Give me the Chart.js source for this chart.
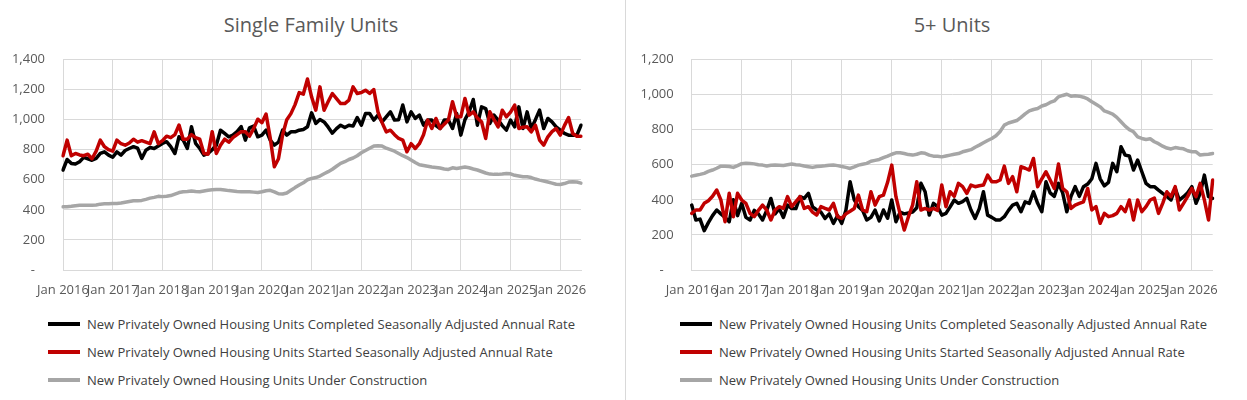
<!DOCTYPE html>
<html>
<head>
<meta charset="utf-8">
<script src="https://cdn.jsdelivr.net/npm/chart.js@4.4.1/dist/chart.umd.min.js"></script>
<style>
  html, body { margin: 0; padding: 0; background: #fff; overflow: hidden; }
  body { width: 1247px; height: 400px; position: relative; font-family: "Open Sans", sans-serif; }
  canvas { position: absolute; top: 0; }
  .title { position: absolute; top: 11px; font-size: 20px; line-height: 28px; color: #595959; white-space: nowrap; transform: translateX(-50%); }
  .divider { position: absolute; left: 625px; top: 0; width: 1px; height: 400px; background: #d9d9d9; }
  .legend { position: absolute; top: 310px; font-size: 13px; color: #404040; }
  .legend .item { height: 28px; display: flex; align-items: center; white-space: nowrap; }
  .legend .swatch { display: inline-block; width: 32px; height: 4px; margin-right: 7px; }
</style>
</head>
<body>
<div class="title" style="left:311px">Single Family Units</div>
<div class="title" style="left:952px">5+ Units</div>
<canvas id="sf-canvas" width="622" height="310" style="left:0"></canvas>
<canvas id="mf-canvas" width="619" height="310" style="left:628px"></canvas>
<div class="divider"></div>
<div class="legend" id="sf-legend" style="left:48px"></div>
<div class="legend" id="mf-legend" style="left:680px"></div>

<script>
// monthly series, Jan 2016 .. Jun 2026 (thousands of units, SAAR)
const years = [2016, 2017, 2018, 2019, 2020, 2021, 2022, 2023, 2024, 2025, 2026];
const monthNames = ['Jan', 'Feb', 'Mar', 'Apr', 'May', 'Jun', 'Jul', 'Aug', 'Sep', 'Oct', 'Nov', 'Dec'];
const yearTicks = ['Jan 2016', 'Jan 2017', 'Jan 2018', 'Jan 2019', 'Jan 2020', 'Jan 2021',
                   'Jan 2022', 'Jan 2023', 'Jan 2024', 'Jan 2025', 'Jan 2026'];

const seriesNames = [
  'New Privately Owned Housing Units Completed Seasonally Adjusted Annual Rate',
  'New Privately Owned Housing Units Started Seasonally Adjusted Annual Rate',
  'New Privately Owned Housing Units Under Construction'
];

// Single family
const sfCompleted = [
  665, 735, 709, 705, 720, 749, 740, 730, 742, 775, 786, 764,
  750, 786, 764, 795, 808, 820, 810, 742, 797, 815, 808, 825,
  842, 853, 820, 775, 886, 864, 808, 953, 842, 808, 764, 775,
  800, 830, 930, 908, 886, 897, 920, 953, 864, 945, 957, 886,
  897, 930, 864, 830, 850, 930, 897, 919, 919, 930, 935, 953,
  1045, 975, 1001, 985, 950, 910, 940, 963, 948, 963, 957, 1014,
  963, 1041, 1041, 997, 1030, 985, 1019, 1052, 997, 1000, 1097, 985,
  1052, 1008, 1030, 963, 997, 997, 960, 941, 997, 997, 941, 1041,
  897, 1000, 1052, 1134, 963, 1085, 1074, 974, 1030, 997, 960, 930,
  997, 952, 1085, 941, 1052, 941, 1000, 1063, 941, 1008, 985, 952,
  930, 908, 897, 897, 897, 963
];
const sfStarted = [
  760, 864, 760, 775, 765, 760, 770, 740, 790, 864, 820, 800,
  790, 864, 840, 830, 845, 870, 850, 860, 850, 840, 919, 840,
  860, 890, 880, 900, 964, 870, 870, 900, 880, 870, 775, 770,
  920, 775, 830, 870, 850, 880, 900, 920, 920, 890, 940, 1003,
  980, 1037, 880, 687, 740, 900, 1000, 1040, 1100, 1180, 1170, 1270,
  1150, 1063, 1218, 1063, 1120, 1174, 1140, 1107, 1107, 1130, 1218, 1174,
  1180, 1196, 1174, 1200, 1052, 980, 919, 930, 900, 875, 864, 786,
  840, 808, 840, 900, 997, 941, 1008, 941, 970, 997, 1119, 1019,
  1019, 1141, 1030, 1052, 1010, 986, 875, 1052, 1000, 952, 1063, 1019,
  1050, 1097, 941, 950, 952, 919, 963, 864, 830, 886, 920, 941,
  897, 960, 1014, 908, 890, 890
];
const sfUnderConstruction = [
  420, 421, 424, 428, 430, 430, 430, 431, 432, 438, 440, 441,
  443, 443, 445, 450, 455, 460, 461, 463, 470, 478, 483, 490,
  488, 490, 495, 505, 515, 520, 522, 525, 522, 520, 525, 530,
  533, 535, 535, 532, 528, 525, 522, 521, 521, 521, 518, 515,
  520, 527, 530, 520, 507, 505, 512, 530, 548, 565, 580, 600,
  609, 615, 625, 640, 654, 670, 690, 709, 720, 735, 745, 760,
  780, 795, 810, 824, 826, 824, 810, 800, 790, 775, 760, 748,
  731, 715, 700, 695, 690, 685, 682, 678, 672, 669, 680, 675,
  680, 685, 680, 672, 665, 655, 645, 638, 636, 636, 638, 642,
  640, 630, 625, 620, 620, 615, 605, 598, 592, 585, 578, 570,
  569, 575, 585, 587, 585, 578
];

// 5+ units
const mfCompleted = [
  370, 285, 290, 224, 270, 310, 342, 320, 300, 275, 400, 310,
  380, 300, 285, 340, 320, 285, 340, 408, 320, 350, 300, 370,
  350, 350, 418, 408, 437, 360, 342, 330, 294, 320, 266, 310,
  266, 340, 503, 400, 361, 340, 285, 300, 342, 280, 342, 295,
  399, 275, 330, 320, 325, 330, 355, 494, 446, 313, 380, 361,
  313, 323, 360, 399, 380, 390, 408, 342, 294, 350, 446, 313,
  300, 285, 285, 304, 340, 370, 380, 332, 389, 380, 446, 380,
  332, 503, 440, 420, 494, 440, 332, 420, 475, 420, 475, 490,
  520, 608, 520, 480, 500, 608, 560, 703, 655, 650, 570, 627,
  560, 494, 475, 475, 455, 437, 420, 399, 465, 399, 418, 440,
  475, 380, 437, 541, 418, 408
];
const mfStarted = [
  323, 342, 342, 380, 395, 420, 456, 400, 275, 437, 304, 437,
  399, 380, 323, 304, 340, 370, 342, 285, 342, 361, 351, 418,
  361, 390, 418, 351, 361, 330, 313, 361, 351, 342, 380, 304,
  294, 320, 335, 351, 427, 342, 332, 446, 370, 418, 427, 500,
  598, 418, 320, 228, 304, 370, 503, 342, 351, 342, 351, 340,
  484, 361, 446, 420, 494, 475, 437, 484, 475, 480, 484, 541,
  503, 503, 513, 592, 494, 532, 446, 589, 580, 570, 636, 475,
  520, 560, 513, 465, 604, 465, 446, 351, 370, 380, 389, 465,
  342, 361, 266, 323, 304, 310, 323, 361, 332, 399, 285, 399,
  332, 361, 399, 410, 323, 380, 446, 418, 475, 342, 380, 420,
  465, 418, 494, 400, 285, 513
];
const mfUnderConstruction = [
  535, 540, 545, 551, 562, 570, 580, 592, 592, 590, 585, 595,
  606, 608, 607, 605, 600, 598, 593, 597, 598, 597, 596, 600,
  604, 600, 598, 593, 589, 585, 590, 592, 594, 597, 598, 595,
  590, 585, 579, 588, 598, 603, 608, 620, 625, 630, 640, 649,
  660, 668, 668, 664, 658, 655, 660, 668, 665, 655, 649, 649,
  645, 650, 655, 660, 664, 674, 680, 686, 700, 712, 725, 738,
  750, 765, 790, 826, 838, 845, 852, 870, 890, 907, 915, 921,
  935, 942, 955, 964, 987, 995, 1002, 991, 993, 991, 985, 975,
  959, 945, 930, 907, 898, 889, 870, 845, 820, 800, 788, 759,
  750, 744, 748, 731, 720, 706, 695, 690, 698, 694, 691, 680,
  674, 674, 655, 658, 660, 664
];

const seriesColors = ['#000000', '#c00000', '#a6a6a6'];

// month labels for the category axis
const months = [];
years.forEach(y => monthNames.forEach(m => months.push(m + ' ' + y)));
months.length = sfCompleted.length;

const gridColor = '#d9d9d9';
const tickFont = { family: '"Open Sans", sans-serif', size: 13 };

function buildChart(canvasId, legendId, values, yMax, axisWidth, rightPad) {
  const ctx = document.getElementById(canvasId).getContext('2d');

  const datasets = values.map((v, i) => ({
    label: seriesNames[i],
    data: v,
    borderColor: seriesColors[i],
    backgroundColor: seriesColors[i],
    borderWidth: 3.5,
    borderJoinStyle: 'round',
    borderCapStyle: 'round',
    tension: 0,
    pointRadius: 0,
    fill: false,
    order: 3 - i // later series on top, like the source sheet
  }));

  new Chart(ctx, {
    type: 'line',
    data: { labels: months, datasets },
    options: {
      responsive: false,
      animation: false,
      events: [],
      layout: { padding: { top: 59.5, right: rightPad, bottom: 0, left: 0 } },
      plugins: {
        legend: { display: false },
        title: { display: false },
        tooltip: { enabled: false }
      },
      scales: {
        x: {
          type: 'category',
          offset: false,
          grid: {
            drawTicks: false,
            color: c => (yearTicks.includes(months[c.index]) ? gridColor : 'rgba(0,0,0,0)')
          },
          border: { color: gridColor },
          ticks: {
            autoSkip: false,
            maxRotation: 0,
            minRotation: 0,
            padding: 12,
            color: '#595959',
            font: tickFont,
            callback: (val, i) => (yearTicks.includes(months[i]) ? months[i] : '')
          },
          afterFit: s => { s.height = 40; }
        },
        y: {
          min: 0,
          max: yMax,
          grid: { drawTicks: false, color: gridColor },
          border: { color: gridColor },
          ticks: {
            stepSize: 200,
            padding: 18,
            color: '#595959',
            font: tickFont,
            callback: v => (v === 0 ? '-   ' : v.toLocaleString('en-US'))
          },
          afterFit: s => { s.width = axisWidth; }
        }
      }
    }
  });

  // legend underneath, one series per row
  const legend = document.getElementById(legendId);
  datasets.forEach(ds => {
    const row = document.createElement('div');
    row.className = 'item';
    row.innerHTML = `<span class="swatch" style="background:${ds.borderColor}"></span>${ds.label}`;
    legend.appendChild(row);
  });
}

buildChart('sf-canvas', 'sf-legend', [sfCompleted, sfStarted, sfUnderConstruction], 1400, 63, 41);
buildChart('mf-canvas', 'mf-legend', [mfCompleted, mfStarted, mfUnderConstruction], 1200, 63.7, 34.3);
</script>
</body>
</html>
